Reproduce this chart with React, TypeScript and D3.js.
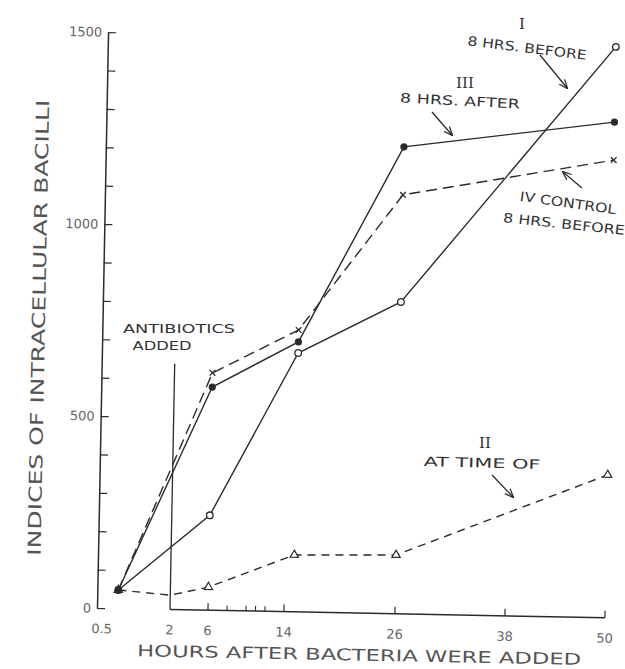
import * as d3 from 'd3';
import React, { useEffect, useRef } from 'react';

// hours after bacteria were added (x) and bacilli indices (y)
const hours = [0.5, 6, 15, 26, 50];
const seriesI = [48, 247, 674, 812, 1487];     // I  - 8 hrs before, open circles
const seriesIII = [48, 581, 703, 1216, 1291];  // III - 8 hrs after, filled dots
const seriesIV = [48, 618, 734, 1091, 1192];   // IV - control 8 hrs before, crosses
const hoursII = [0.5, 2, 6, 15, 26, 50];
const seriesII = [48, 37, 60, 148, 153, 372];  // II - at time of, triangles

const xTickValues = [0.5, 2, 6, 14, 26, 38, 50];
const xMinorTicks = [8, 10, 11, 12];
const yTickValues = d3.range(0, 1501, 100);
const yLabelValues = [0, 500, 1000, 1500];
const antibioticsHour = 2;
const antibioticsTop = 640;

const yTitle = 'INDICES OF INTRACELLULAR BACILLI';
const xTitle = 'HOURS AFTER BACTERIA WERE ADDED';

const annotations = [
  { t: 'I', x: 522, y: 24, a: 0, serif: true },
  { t: '8 HRS. BEFORE', x: 527, y: 48, a: 7, len: 120 },
  { t: 'III', x: 465, y: 83, a: 0, serif: true },
  { t: '8 HRS. AFTER', x: 460, y: 101, a: 3, len: 120 },
  { t: 'IV CONTROL', x: 568, y: 203, a: 8, len: 97 },
  { t: '8 HRS. BEFORE', x: 564, y: 224, a: 6, len: 122 },
  { t: 'ANTIBIOTICS', x: 179, y: 328, a: 0, len: 112 },
  { t: 'ADDED', x: 162, y: 345, a: 0, len: 59 },
  { t: 'II', x: 485, y: 443, a: 0, serif: true },
  { t: 'AT TIME OF', x: 482, y: 463, a: 1.5, len: 117 },
];
const arrows = [
  [540, 55, 567, 88],
  [432, 112, 452, 135],
  [582, 188, 563, 172],
  [492, 475, 513, 497],
];

const W = 625;
const H = 669;
const margin = { top: 32, left: 97 };
const innerH = 576;
const ink = '#2b2b2b';
const font = 'DejaVu Sans, sans-serif';

const App = () => {
  const ref = useRef(null);

  useEffect(() => {
    const svg = d3.select(ref.current);
    svg.selectAll('*').remove();

    svg.append('defs').append('marker')
      .attr('id', 'head')
      .attr('viewBox', '0 0 10 10')
      .attr('refX', 9).attr('refY', 5)
      .attr('markerWidth', 7).attr('markerHeight', 7)
      .attr('orient', 'auto')
      .append('path')
      .attr('d', 'M0,1 L10,5 L0,9')
      .attr('fill', 'none')
      .attr('stroke', ink)
      .attr('stroke-width', 1.4);

    // scanned figure sits slightly rotated on the page
    const g = svg.append('g')
      .attr('transform', `translate(${margin.left},${margin.top}) rotate(1.1,0,${innerH})`);

    // hand drawn axis: broken between 0.5 and 2, uneven spacing
    const x = d3.scaleLinear().domain(xTickValues).range([21, 73, 111, 187, 298, 408, 508]);
    const y = d3.scaleLinear().domain([0, 1500]).range([innerH, 0]);

    // y axis
    const yAxis = g.append('g')
      .call(d3.axisLeft(y).tickValues(yTickValues).tickSize(-8).tickSizeOuter(0).tickPadding(6)
        .tickFormat((d) => (yLabelValues.includes(d) ? String(d) : '')));
    yAxis.select('.domain').attr('stroke', ink).attr('stroke-width', 1.5);
    yAxis.selectAll('.tick line').attr('stroke', ink).attr('stroke-width', 1.2);
    yAxis.selectAll('.tick text').attr('fill', '#666').attr('font-size', 13).attr('font-family', font);

    // x axis
    g.append('line')
      .attr('x1', x(2)).attr('x2', x(50))
      .attr('y1', innerH).attr('y2', innerH)
      .attr('stroke', ink).attr('stroke-width', 1.5);
    g.selectAll('.xtick')
      .data(xTickValues.filter((d) => d > 2))
      .enter().append('line')
      .attr('x1', (d) => x(d)).attr('x2', (d) => x(d))
      .attr('y1', innerH).attr('y2', innerH - 7)
      .attr('stroke', ink).attr('stroke-width', 1.2);
    g.selectAll('.xminor')
      .data(xMinorTicks)
      .enter().append('line')
      .attr('x1', (d) => x(d)).attr('x2', (d) => x(d))
      .attr('y1', innerH).attr('y2', innerH - 5)
      .attr('stroke', ink).attr('stroke-width', 1.1);
    g.selectAll('.xlabel')
      .data(xTickValues)
      .enter().append('text')
      .attr('x', (d) => x(d) + (d === 0.5 ? -16 : 0))
      .attr('y', innerH + 25)
      .attr('text-anchor', 'middle')
      .attr('font-size', 13).attr('font-family', font).attr('fill', '#666')
      .text((d) => String(d));

    // antibiotics added marker line
    g.append('line')
      .attr('x1', x(antibioticsHour)).attr('x2', x(antibioticsHour))
      .attr('y1', y(antibioticsTop)).attr('y2', innerH)
      .attr('stroke', ink).attr('stroke-width', 1.3);

    // axis titles
    g.append('text')
      .attr('transform', `translate(-64,${innerH - 279}) rotate(-90)`)
      .attr('text-anchor', 'middle').attr('dominant-baseline', 'central')
      .attr('font-size', 18).attr('font-family', font).attr('fill', '#555')
      .attr('textLength', 456).attr('lengthAdjust', 'spacingAndGlyphs')
      .text(yTitle);
    g.append('text')
      .attr('x', 263).attr('y', innerH + 42)
      .attr('text-anchor', 'middle').attr('dominant-baseline', 'central')
      .attr('font-size', 16).attr('font-family', font).attr('fill', '#555')
      .attr('textLength', 444).attr('lengthAdjust', 'spacingAndGlyphs')
      .text(xTitle);

    const line = d3.line().x((d) => x(d[0])).y((d) => y(d[1]));
    const series = [
      { xs: hours, ys: seriesI, dash: null, mark: 'circle' },
      { xs: hours, ys: seriesIII, dash: null, mark: 'dot' },
      { xs: hours, ys: seriesIV, dash: '11,6', mark: 'cross' },
      { xs: hoursII, ys: seriesII, dash: '8,6', mark: 'triangle' },
    ];

    series.forEach((s) => {
      const pts = s.xs.map((h, i) => [h, s.ys[i]]);
      g.append('path')
        .datum(pts)
        .attr('d', line)
        .attr('fill', 'none')
        .attr('stroke', ink)
        .attr('stroke-width', 1.4)
        .attr('stroke-dasharray', s.dash);

      const m = g.selectAll(null).data(pts.filter((d) => d[0] !== antibioticsHour)).enter();
      if (s.mark === 'circle') {
        m.append('circle').attr('cx', (d) => x(d[0])).attr('cy', (d) => y(d[1])).attr('r', 3.3)
          .attr('fill', '#fff').attr('stroke', ink).attr('stroke-width', 1.3);
      } else if (s.mark === 'dot') {
        m.append('circle').attr('cx', (d) => x(d[0])).attr('cy', (d) => y(d[1])).attr('r', 3.6)
          .attr('fill', ink);
      } else if (s.mark === 'cross') {
        m.append('path')
          .attr('transform', (d) => `translate(${x(d[0])},${y(d[1])}) rotate(45)`)
          .attr('d', 'M-4,0H4M0,-4V4')
          .attr('fill', 'none').attr('stroke', ink).attr('stroke-width', 1.3);
      } else {
        m.append('path')
          .attr('transform', (d) => `translate(${x(d[0])},${y(d[1])})`)
          .attr('d', d3.symbol(d3.symbolTriangle, 30))
          .attr('fill', (d, i) => (i === 0 ? ink : '#fff'))
          .attr('stroke', ink).attr('stroke-width', 1.2);
      }
    });

    // labels and arrows, lettered freehand on the figure
    const notes = svg.append('g');
    notes.selectAll('text')
      .data(annotations)
      .enter().append('text')
      .attr('transform', (d) => `translate(${d.x},${d.y}) rotate(${d.a})`)
      .attr('text-anchor', 'middle').attr('dominant-baseline', 'central')
      .attr('font-family', (d) => (d.serif ? 'DejaVu Serif, serif' : font))
      .attr('font-size', (d) => (d.serif ? 15 : 13))
      .attr('fill', '#333')
      .attr('textLength', (d) => d.len || null)
      .attr('lengthAdjust', 'spacingAndGlyphs')
      .text((d) => d.t);
    notes.selectAll('line')
      .data(arrows)
      .enter().append('line')
      .attr('x1', (d) => d[0]).attr('y1', (d) => d[1])
      .attr('x2', (d) => d[2]).attr('y2', (d) => d[3])
      .attr('stroke', ink).attr('stroke-width', 1.3)
      .attr('marker-end', 'url(#head)');
  }, []);

  return (
    <div style={{ position: 'absolute', left: 0, top: 0 }}>
      <svg ref={ref} width={W} height={H} style={{ display: 'block', background: '#fff' }}></svg>
    </div>
  );
};

export default App;
